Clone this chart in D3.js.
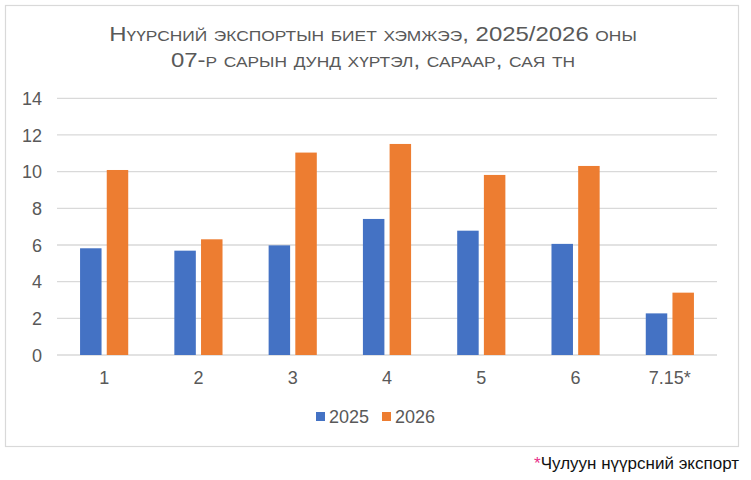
<!DOCTYPE html>
<html><head><meta charset="utf-8">
<script src="https://cdn.jsdelivr.net/npm/d3@7"></script>
<style>
html,body{margin:0;padding:0;background:#fff;}
svg{display:block;font-family:"Liberation Sans",Arial,sans-serif;}
</style></head>
<body><svg id="c" width="751" height="480"></svg>
<script>
const categories = ["1","2","3","4","5","6","7.15*"];
const seriesNames = ["2025","2026"];
const values2025 = [5.82,5.69,5.98,7.42,6.78,6.06,2.27];
const values2026 = [10.09,6.31,11.04,11.51,9.82,10.31,3.40];
const yTicks = [0,2,4,6,8,10,12,14];
const titleLines = ["Нүүрсний экспортын биет хэмжээ, 2025/2026 оны","07-р сарын дунд хүртэл, сараар, сая тн"];
const footnote = "Чулуун нүүрсний экспорт";

const colors = ["#4472C4","#ED7D31"];
const svg = d3.select("#c");

// frame
svg.append("rect").attr("x",5.5).attr("y",5.5).attr("width",733).attr("height",441)
  .attr("fill","#fff").attr("stroke","#d9d9d9").attr("stroke-width",1.2);

const x0 = d3.scaleBand().domain(categories).range([57,717]).paddingInner(0).paddingOuter(0);
const x1 = d3.scaleBand().domain(seriesNames).range([0,x0.bandwidth()]).paddingInner(0.195).paddingOuter(0.864);
const y = d3.scaleLinear().domain([0,14]).range([355,98.3]);

// y labels
const yAxis = d3.axisLeft(y).tickValues(yTicks).tickSize(0).tickPadding(0);
const gy = svg.append("g").attr("transform","translate(42,0)").call(yAxis);
gy.select(".domain").remove();
gy.selectAll("text").attr("fill","#595959").style("font-size","18px").attr("x",0).attr("dy","0.35em");

// grid
svg.append("g").selectAll("line").data(yTicks).join("line")
  .attr("x1",57).attr("x2",717).attr("y1",d=>y(d)).attr("y2",d=>y(d))
  .attr("stroke","#d9d9d9").attr("stroke-width",1.3);

// bars
const data = categories.map((c,i)=>({c, v:[values2025[i],values2026[i]]}));
const g = svg.append("g").selectAll("g").data(data).join("g")
  .attr("transform",d=>`translate(${x0(d.c)},0)`);
g.selectAll("rect").data(d=>d.v.map((v,j)=>({s:seriesNames[j],v,j}))).join("rect")
  .attr("x",d=>x1(d.s)).attr("width",x1.bandwidth())
  .attr("y",d=>y(d.v)).attr("height",d=>y(0)-y(d.v))
  .attr("fill",d=>colors[d.j]);

// x axis labels
const xAxis = d3.axisBottom(x0).tickSize(0).tickPadding(0);
const gx = svg.append("g").attr("transform","translate(0,371)").call(xAxis);
gx.select(".domain").remove();
gx.selectAll("text").attr("fill","#595959").style("font-size","18px").attr("dy","0.71em");

// title with manual small caps, horizontally stretched to match
const cx = 373;
const tg = svg.append("g");
const t = tg.append("text").attr("text-anchor","middle").attr("fill","#595959");
const baselines = [41,67];
const lineEls = [];
titleLines.forEach((l,i)=>{
  const runs = [];
  for (const ch of l) {
    const low = ch !== ch.toUpperCase();
    if (runs.length && runs[runs.length-1].low === low) runs[runs.length-1].s += ch;
    else runs.push({low, s: ch});
  }
  const line = t.append("tspan").attr("x",0).attr("y",baselines[i]);
  runs.forEach(r=>{
    line.append("tspan").style("font-size", r.low ? "14.5px" : "20px").text(r.s.toUpperCase());
  });
  lineEls.push(line);
});
const w1 = t.node().getBBox().width;
const sx = 528 / w1;
tg.attr("transform",`translate(${cx},0) scale(${sx},1)`);

// legend
const leg = svg.append("g");
const legX = [316,382];
seriesNames.forEach((s,i)=>{
  leg.append("rect").attr("x",legX[i]).attr("y",412).attr("width",9).attr("height",9).attr("fill",colors[i]);
  leg.append("text").attr("x",legX[i]+13).attr("y",417).attr("dy","0.35em").attr("fill","#595959")
    .style("font-size","18px").text(s);
});

// footnote
const fn = svg.append("text").attr("x",739).attr("y",469).attr("text-anchor","end").style("font-size","17px").attr("fill","#111");
fn.append("tspan").attr("fill","#e8308a").text("*");
fn.append("tspan").text(footnote);
</script></body></html>
